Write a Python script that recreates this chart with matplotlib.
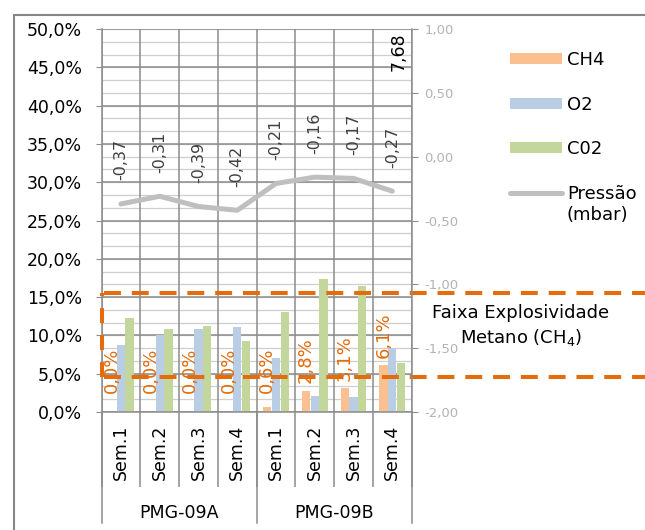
import numpy as np
import matplotlib
matplotlib.use("Agg")
import matplotlib.pyplot as plt
from matplotlib.patches import Rectangle
from matplotlib.transforms import blended_transform_factory

# categories
weeks = ["Sem.1", "Sem.2", "Sem.3", "Sem.4", "Sem.1", "Sem.2", "Sem.3", "Sem.4"]
wells = ["PMG-09A", "PMG-09B"]

# gas concentrations (%)
ch4 = [0.0, 0.0, 0.0, 0.0, 0.6, 2.8, 3.1, 6.1]
o2 = [8.8, 10.1, 10.9, 11.1, 7.1, 2.1, 2.0, 8.3]
co2 = [12.3, 10.8, 11.2, 9.3, 13.0, 17.4, 16.4, 6.4]

# pressure (mbar), right axis
pressure = [-0.37, -0.31, -0.39, -0.42, -0.21, -0.16, -0.17, -0.27]

# methane explosive band as drawn on the chart (%)
explosive_range = [4.6, 15.6]

pct_ticks = [0, 5, 10, 15, 20, 25, 30, 35, 40, 45, 50]
mbar_ticks = [-2.0, -1.5, -1.0, -0.5, 0.0, 0.5, 1.0]

ORANGE = "#E46C0A"
DARK = "#8C8C8C"
LIGHT = "#CFCFCF"


def br(v, dec):
    return f"{v:.{dec}f}".replace(".", ",")


fig = plt.figure(figsize=(6.45, 5.3), dpi=100)
ax = fig.add_axes([0.1574, 0.2226, 0.4809, 0.7226])
ax2 = ax.twinx()

x = np.arange(len(weeks))
w, step = 0.215, 0.225
b1 = ax.bar(x - step, ch4, w, color="#FAC090", zorder=2)
b2 = ax.bar(x, o2, w, color="#B9CDE5", zorder=2)
b3 = ax.bar(x + step, co2, w, color="#C3D69B", zorder=2)

ax.set_xlim(-0.5, len(weeks) - 0.5)
ax.set_ylim(0, 50)
ax2.set_ylim(-2, 1)

# gridlines: fine ones follow the right axis, strong ones the left axis
lo, hi = ax.get_ylim()
rlo, rhi = ax2.get_ylim()
for r in np.arange(rlo, rhi + 0.01, 0.1):
    ax.axhline(lo + (r - rlo) / (rhi - rlo) * (hi - lo), color=LIGHT, lw=0.9, zorder=0.5)
for v in pct_ticks:
    ax.axhline(v, color=DARK, lw=1.1, zorder=1)
for b in np.arange(-0.5, len(weeks), 1):
    ax.axvline(b, color=DARK, lw=1.1, zorder=1)

ax.set_yticks(pct_ticks)
ax.set_yticklabels([br(v, 1) + "%" for v in pct_ticks], fontsize=12.5)
ax.tick_params(axis="y", length=4, color=DARK, pad=10)

ax.set_xticks(np.arange(-0.5, len(weeks), 1))
ax.set_xticklabels([])
ax.tick_params(axis="x", which="major", length=54, width=1.1, color=DARK)
ax.set_xticks(x, minor=True)
ax.set_xticklabels(weeks, minor=True, rotation=90, fontsize=12.5)
ax.tick_params(axis="x", which="minor", length=0, pad=9)

xt = ax.get_xaxis_transform()
for b in [-0.5, 3.5, 7.5]:
    ax.plot([b, b], [0, -0.29], transform=xt, clip_on=False, color=DARK, lw=1.1)
for i, name in enumerate(wells):
    ax.text(1.5 + 4 * i, -0.264, name, transform=xt, ha="center", va="center", fontsize=12.5)

for s in ["top", "right"]:
    ax.spines[s].set_visible(False)
for s in ["left", "bottom"]:
    ax.spines[s].set_color(DARK)
    ax.spines[s].set_linewidth(1.1)

# CH4 labels
for xi, v in zip(x, ch4):
    ax.text(xi - step, max(v + 1.0, 2.5), br(v, 1) + "%", rotation=90, ha="center",
            va="bottom", color=ORANGE, fontsize=13, zorder=5)

# explosive band
trans = blended_transform_factory(fig.transFigure, ax.transData)
x0 = ax.get_position().x0 + 2 / 645
for y in explosive_range:
    ax.plot([x0, 1.0], [y, y], transform=trans, clip_on=False, color=ORANGE,
            lw=2.9, dashes=(4.2, 2.7), zorder=4)
ax.plot([0.002, 0.002], explosive_range, transform=ax.get_yaxis_transform(), clip_on=False,
        color=ORANGE, lw=2.9, dashes=(3.7, 3.0), zorder=4)
fig.text(521 / 645, 1 - 313 / 530, "Faixa Explosividade", ha="center", va="center", fontsize=13)
fig.text(521 / 645, 1 - 337 / 530, "Metano (CH$_4$)", ha="center", va="center", fontsize=13)

# pressure
line, = ax2.plot(x, pressure, color="#BFBFBF", lw=3.6, solid_capstyle="round", zorder=3)
for xi, p in zip(x, pressure):
    ax2.annotate(br(p, 2), (xi, p), xytext=(0, 17), textcoords="offset points", rotation=90,
                 ha="center", va="bottom", color="#404040", fontsize=11.5)
ax2.text(7.15, 0.82, "7,68", rotation=90, ha="center", va="center", fontsize=12.5)

ax2.set_yticks(mbar_ticks)
ax2.set_yticklabels([br(v, 2) for v in mbar_ticks], fontsize=9.5, color="#B3B3B3")
ax2.tick_params(axis="y", length=4, color=DARK, pad=5)
for s in ["top", "left", "bottom"]:
    ax2.spines[s].set_visible(False)
ax2.spines["right"].set_color(DARK)
ax2.spines["right"].set_linewidth(1.1)

leg = ax2.legend([b1, b2, b3, line], ["CH4", "O2", "C02", "Pressão"], loc="upper left",
                 bbox_to_anchor=(510 / 645, 1 - 51 / 530), bbox_transform=fig.transFigure,
                 frameon=False, fontsize=13, handlelength=2.9, handleheight=0.55,
                 handletextpad=0.25, labelspacing=1.47, borderpad=0, borderaxespad=0)

# second line of the pressure entry, placed just under "Pressão"
fig.canvas.draw()
bb = leg.get_texts()[-1].get_window_extent().transformed(fig.transFigure.inverted())
fig.text(bb.x0, bb.y0 - 0.006, "(mbar)", ha="left", va="top", fontsize=13)

# chart border (right and bottom edges fall outside the picture)
fig.patches.append(Rectangle((14 / 645, -0.5), 2, 0.5 + 1 - 15 / 530, transform=fig.transFigure,
                             fill=False, edgecolor="#868686", lw=1.5))

fig.savefig("out.png", dpi=100)
